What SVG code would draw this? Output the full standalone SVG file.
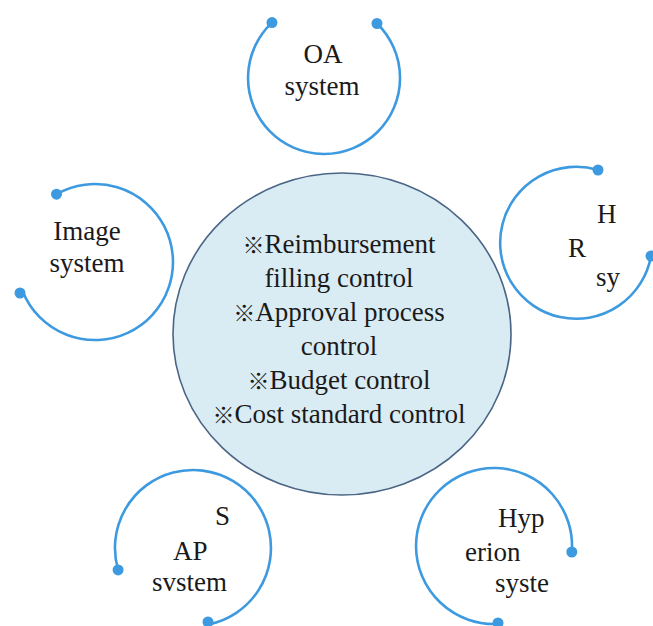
<svg xmlns="http://www.w3.org/2000/svg" width="653" height="626" viewBox="0 0 653 626">
<style>
.arc{fill:none;stroke:#3d9ae0;stroke-width:2.6;stroke-linecap:round}
.dot{fill:#3d9ae0}
.t{font-family:"Liberation Serif","Times New Roman",serif;font-size:27px;fill:#1a1a1a}
.c{text-anchor:middle}
.sym{font-family:"Noto Sans CJK SC","DejaVu Sans",sans-serif;font-size:22px;font-weight:300}
</style>
<rect width="653" height="626" fill="#ffffff"/>
<g id="center">
<ellipse cx="342" cy="334" rx="169" ry="161" fill="#daecf3" stroke="#4a6585" stroke-width="1.6"/>
<text class="t c" x="339" y="253"><tspan class="sym">※</tspan>Reimbursement</text>
<text class="t c" x="339" y="287">filling control</text>
<text class="t c" x="339" y="321"><tspan class="sym">※</tspan>Approval process</text>
<text class="t c" x="339" y="355">control</text>
<text class="t c" x="339" y="389"><tspan class="sym">※</tspan>Budget control</text>
<text class="t c" x="339" y="423"><tspan class="sym">※</tspan>Cost standard control</text>
</g>
<g id="connectors">
<path class="arc" d="M272 22.6 A76 76 0 1 0 377 23.5"/>
<path class="arc" d="M598 170 A76 76 0 1 0 651 256"/>
<path class="arc" d="M56.5 194.2 A78 78 0 1 1 22.9 291.9"/>
<path class="arc" d="M118.1 569.9 A78 78 0 1 1 208.5 624.4"/>
<path class="arc" d="M571.8 552 A78 78 0 1 0 498 623.9"/>
</g>
<g id="oa">
<circle class="dot" cx="272" cy="22.6" r="5.5"/>
<circle class="dot" cx="377" cy="23.5" r="5.5"/>
<text class="t c" x="323" y="63">OA</text>
<text class="t c" x="322" y="95">system</text>
</g>
<g id="hr">
<circle class="dot" cx="598" cy="170" r="5.5"/>
<circle class="dot" cx="651" cy="256" r="5.5"/>
<text class="t" x="597" y="223">H</text>
<text class="t" x="568" y="257">R</text>
<text class="t" x="596" y="286">sy</text>
</g>
<g id="image">
<circle class="dot" cx="56.5" cy="194.2" r="5.5"/>
<circle class="dot" cx="20" cy="293" r="5.5"/>
<text class="t c" x="87" y="240">Image</text>
<text class="t c" x="87" y="272">system</text>
</g>
<g id="sap">
<circle class="dot" cx="118.1" cy="569.9" r="5.5"/>
<circle class="dot" cx="208" cy="622" r="5.5"/>
<text class="t" x="215" y="525">S</text>
<text class="t" x="173" y="560">AP</text>
<text class="t" x="152" y="591">svstem</text>
</g>
<g id="hyperion">
<circle class="dot" cx="571.8" cy="552" r="5.5"/>
<circle class="dot" cx="498" cy="623" r="5.5"/>
<text class="t" x="498" y="527">Hyp</text>
<text class="t" x="465" y="561">erion</text>
<text class="t" x="495" y="592">syste</text>
</g>
</svg>
